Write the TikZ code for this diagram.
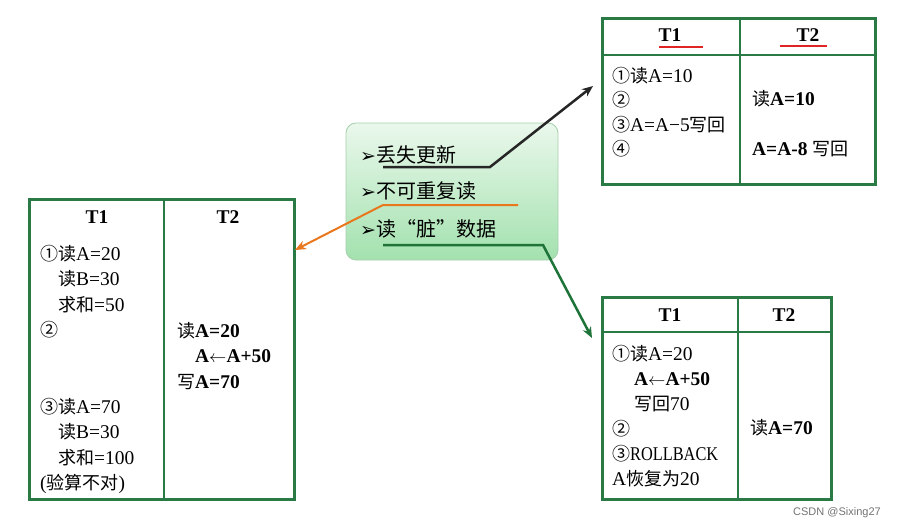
\documentclass[tikz,border=0pt]{standalone}
\usepackage{fontspec}
\usepackage{graphicx}
\setmainfont{Liberation Serif}[Scale=1.08]
\newfontfamily\cjk{Noto Sans CJK SC}
\newfontfamily\symfont{DejaVu Sans}
\newfontfamily\markfont{Liberation Sans}
\usetikzlibrary{arrows.meta, positioning}

\definecolor{tabgreen}{HTML}{2A7A45}
\definecolor{arrgreen}{HTML}{1E7438}
\definecolor{arrorange}{HTML}{E8771E}
\definecolor{arrdark}{HTML}{262626}
\definecolor{ulred}{HTML}{E02424}
\definecolor{boxtop}{HTML}{EAF8EC}
\definecolor{boxbot}{HTML}{A3E1AE}
\definecolor{boxedge}{HTML}{A7CFAE}

\newcommand{\zh}[1]{{\cjk #1}}
\newcommand{\tabfont}{\fontsize{18}{25.5}\selectfont}
\newcommand{\itemfont}{\fontsize{20}{24}\selectfont}
\newcommand{\itemmark}{{\symfont\fontsize{19}{19}\selectfont ➢}}
\newcommand{\ind}{\phantom{\zh{①}}}

\begin{document}
\begin{tikzpicture}[
  x=1pt, y=-1pt,
  frame/.style={draw=tabgreen, line width=3pt, inner sep=0pt, anchor=north west},
  rule/.style={draw=tabgreen, line width=1.5pt},
  cell/.style={anchor=north west, inner sep=0pt, align=left, font=\tabfont},
  head/.style={inner sep=0pt, font=\fontsize{18}{18}\selectfont\bfseries},
  item/.style={anchor=west, inner sep=0pt, font=\itemfont},
  redline/.style={draw=ulred, line width=2pt},
  tip/.style={-{Stealth[length=11pt, width=9pt]}}
]
\useasboundingbox (0,0) rectangle (903,531);

% the three problems
\node[rectangle, rounded corners=10pt, draw=boxedge, line width=0.8pt,
      top color=boxtop, bottom color=boxbot,
      minimum width=212pt, minimum height=137pt] (issues) at (452,191.5) {};
\node[item] (lost) at (360,155) {\itemmark\zh{丢失更新}};
\node[item] (nonrep) at (360,191) {\itemmark\zh{不可重复读}};
\node[item] (dirty) at (360,229) {\itemmark\zh{读“脏”数据}};

% lost update table
\node[frame, minimum width=273pt, minimum height=166pt] (lostTab) at (601,17) {};
\draw[rule] ([xshift=139pt]lostTab.north west) -- ([xshift=139pt]lostTab.south west);
\draw[rule] ([yshift=-38pt]lostTab.north west) -- ([yshift=-38pt]lostTab.north east);
\node[head] (lostT1) at (670,35) {T1};
\node[head] (lostT2) at (808,35) {T2};
\draw[redline] ([xshift=-11pt, yshift=-5pt]lostT1.south) -- ([xshift=33pt, yshift=-5pt]lostT1.south);
\draw[redline] ([xshift=-28pt, yshift=-4pt]lostT2.south) -- ([xshift=19pt, yshift=-4pt]lostT2.south);
\node[cell, font=\fontsize{18}{24.5}\selectfont] (lostA) at (612,67)
  {\zh{①读}A=10\\ \zh{②}\\ \zh{③}A=A−5\zh{写回}\\ \zh{④}};
\node[cell, font=\fontsize{18}{25}\selectfont] (lostB) at (752,90)
  {\zh{读}\textbf{A=10}\\ ~\\ \textbf{A=A-8} \zh{写回}};

% non-repeatable read table
\node[frame, minimum width=265pt, minimum height=300pt] (nrTab) at (28,198) {};
\draw[rule] ([xshift=136pt]nrTab.north west) -- ([xshift=136pt]nrTab.south west);
\node[head] (nrT1) at (97,217) {T1};
\node[head] (nrT2) at (228,217) {T2};
\node[cell] (nrA) at (40,245)
  {\zh{①读}A=20\\
   \ind\zh{读}B=30\\
   \ind\zh{求和}=50\\
   \zh{②}\\ ~\\ ~\\
   \zh{③读}A=70\\
   \ind\zh{读}B=30\\
   \ind\zh{求和}=100\\
   (\zh{验算不对})};
\node[cell] (nrB) at (177,322)
  {\zh{读}\textbf{A=20}\\
   \hspace*{18pt}\textbf{A$\leftarrow$A+50}\\
   \zh{写}\textbf{A=70}};

% dirty read table
\node[frame, minimum width=229pt, minimum height=202pt] (dirtyTab) at (601,296) {};
\draw[rule] ([xshift=137pt]dirtyTab.north west) -- ([xshift=137pt]dirtyTab.south west);
\draw[rule] ([yshift=-36pt]dirtyTab.north west) -- ([yshift=-36pt]dirtyTab.north east);
\node[head] (dirtyT1) at (670,315) {T1};
\node[head] (dirtyT2) at (784,315) {T2};
\node[cell, font=\fontsize{18}{25}\selectfont] (dirtyA) at (612,345)
  {\zh{①读}A=20\\
   \hspace*{22pt}\textbf{A$\leftarrow$A+50}\\
   \hspace*{22pt}\zh{写回}70\\
   \zh{②}\\
   \zh{③}\scalebox{0.84}[1]{ROLLBACK}\\
   A\zh{恢复为}20};
\node[cell] (dirtyB) at (750,419) {\zh{读}\textbf{A=70}};

% underlines and arrows
\coordinate (lostL) at (383,167);
\coordinate (lostR) at (490,167);
\coordinate (lostTo) at (593,86);
\coordinate (nrR) at (518,205);
\coordinate (nrL) at (383,205);
\coordinate (nrTo) at (295,250);
\coordinate (dirtyL) at (383,245);
\coordinate (dirtyR) at (543,245);
\coordinate (dirtyTo) at (592,338);
\draw[tip, draw=arrdark, line width=2.5pt] (lostL) -- (lostR) -- (lostTo);
\draw[tip, draw=arrorange, line width=2pt] (nrR) -- (nrL) -- (nrTo);
\draw[tip, draw=arrgreen, line width=2.5pt] (dirtyL) -- (dirtyR) -- (dirtyTo);

\node[inner sep=0pt, text=black!55, font=\markfont\fontsize{11}{11}\selectfont] (mark) at (837,513) {CSDN @Sixing27};
\end{tikzpicture}
\end{document}
